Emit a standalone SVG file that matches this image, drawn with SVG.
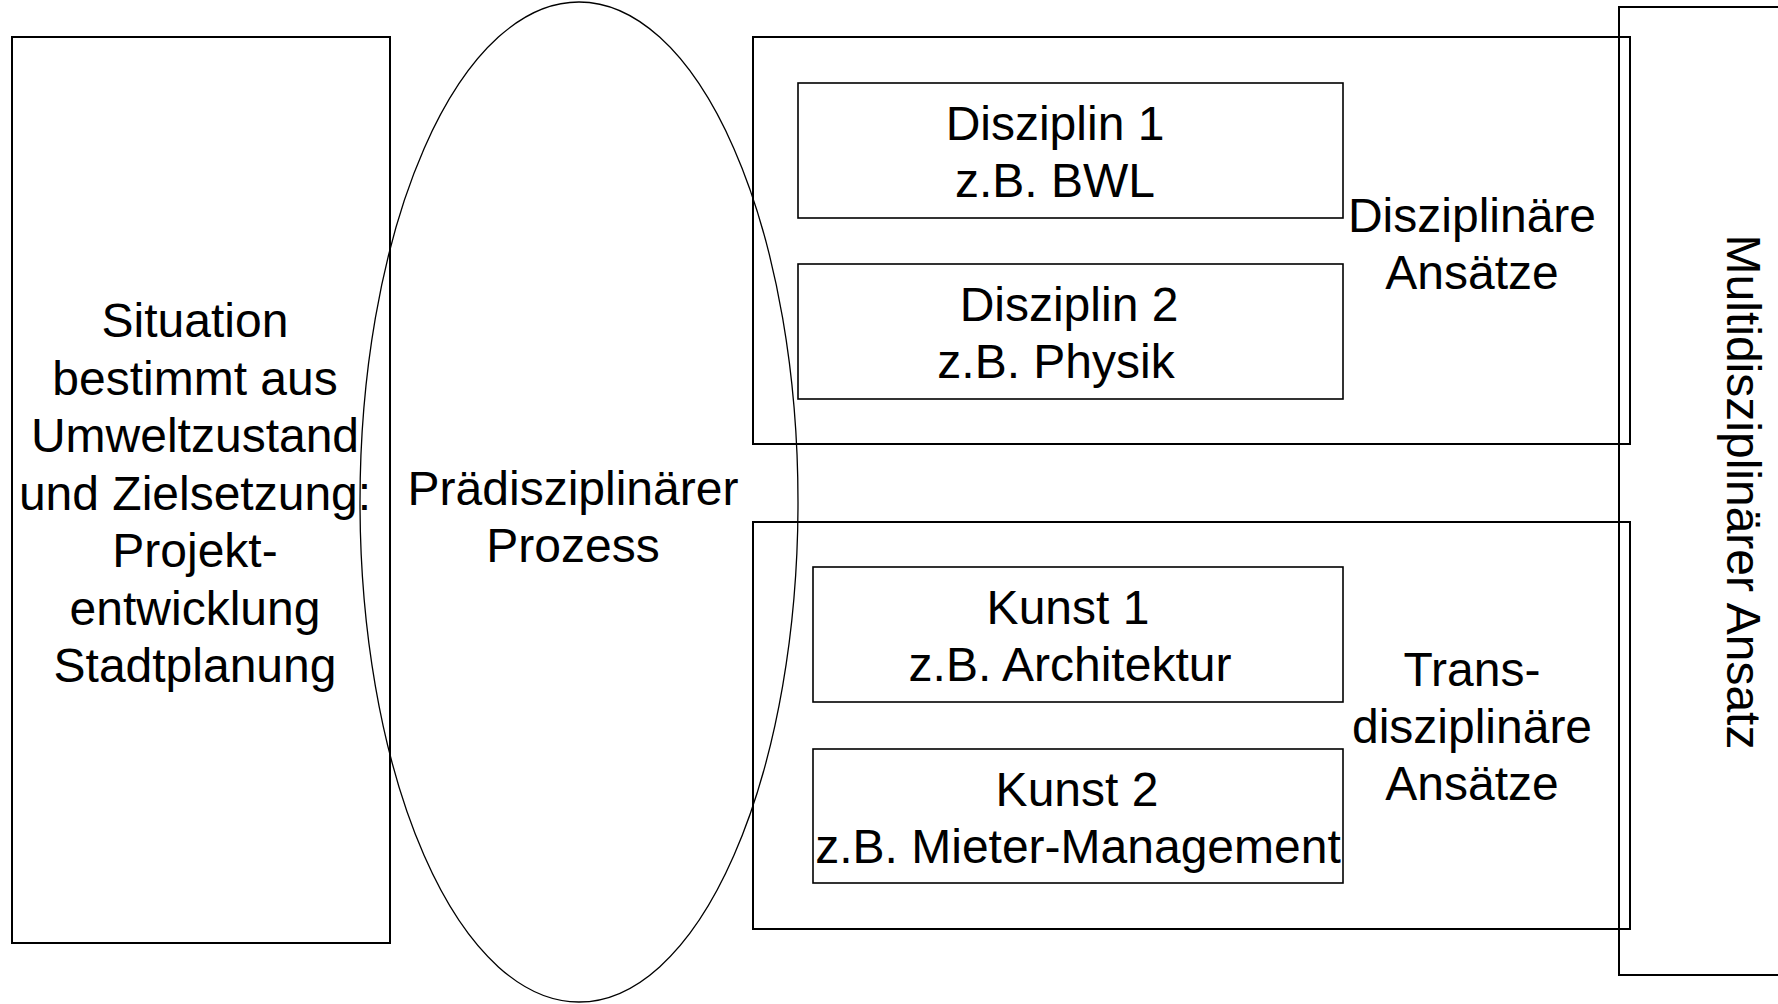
<svg xmlns="http://www.w3.org/2000/svg" width="1778" height="1004" viewBox="0 0 1778 1004">
<style>
text{font-family:"Liberation Sans",Arial,sans-serif;font-size:48px;fill:#000;text-anchor:middle}
.box{fill:none;stroke:#000;stroke-width:2}
.inner{fill:none;stroke:#000;stroke-width:1.6}
.ell{fill:none;stroke:#000;stroke-width:1.3}
</style>
<rect width="1778" height="1004" fill="#fff"/>
<g id="situation">
<rect class="box" x="12" y="37" width="378" height="906"/>
<text x="195" y="337">Situation</text>
<text x="195" y="394.5">bestimmt aus</text>
<text x="195" y="452">Umweltzustand</text>
<text x="195" y="509.5">und Zielsetzung:</text>
<text x="195" y="567">Projekt-</text>
<text x="195" y="624.5">entwicklung</text>
<text x="195" y="682">Stadtplanung</text>
</g>
<g id="multi">
<rect class="box" x="1619" y="7" width="180" height="968"/>
<text transform="translate(1727,492) rotate(90)">Multidisziplinärer Ansatz</text>
</g>
<g id="disziplinaer">
<rect class="box" x="753" y="37" width="877" height="407"/>
<text x="1472" y="232">Disziplinäre</text>
<text x="1472" y="289">Ansätze</text>
</g>
<g id="transdisziplinaer">
<rect class="box" x="753" y="522" width="877" height="407"/>
<text x="1472" y="686">Trans-</text>
<text x="1472" y="743">disziplinäre</text>
<text x="1472" y="800">Ansätze</text>
</g>
<g id="disziplin1">
<rect class="inner" x="798" y="83" width="545" height="135"/>
<text x="1055" y="140">Disziplin 1</text>
<text x="1055" y="197">z.B. BWL</text>
</g>
<g id="disziplin2">
<rect class="inner" x="798" y="264" width="545" height="135"/>
<text x="1069" y="321">Disziplin 2</text>
<text x="1056" y="378">z.B. Physik</text>
</g>
<g id="kunst1">
<rect class="inner" x="813" y="567" width="530" height="135"/>
<text x="1068" y="624">Kunst 1</text>
<text x="1070" y="681">z.B. Architektur</text>
</g>
<g id="kunst2">
<rect class="inner" x="813" y="749" width="530" height="134"/>
<text x="1077" y="806">Kunst 2</text>
<text x="1078" y="863">z.B. Mieter-Management</text>
</g>
<g id="praedisziplinaer">
<ellipse class="ell" cx="579" cy="502" rx="219" ry="500"/>
<text x="573" y="504.5">Prädisziplinärer</text>
<text x="573" y="561.5">Prozess</text>
</g>
<g id="connectors"></g>
</svg>
